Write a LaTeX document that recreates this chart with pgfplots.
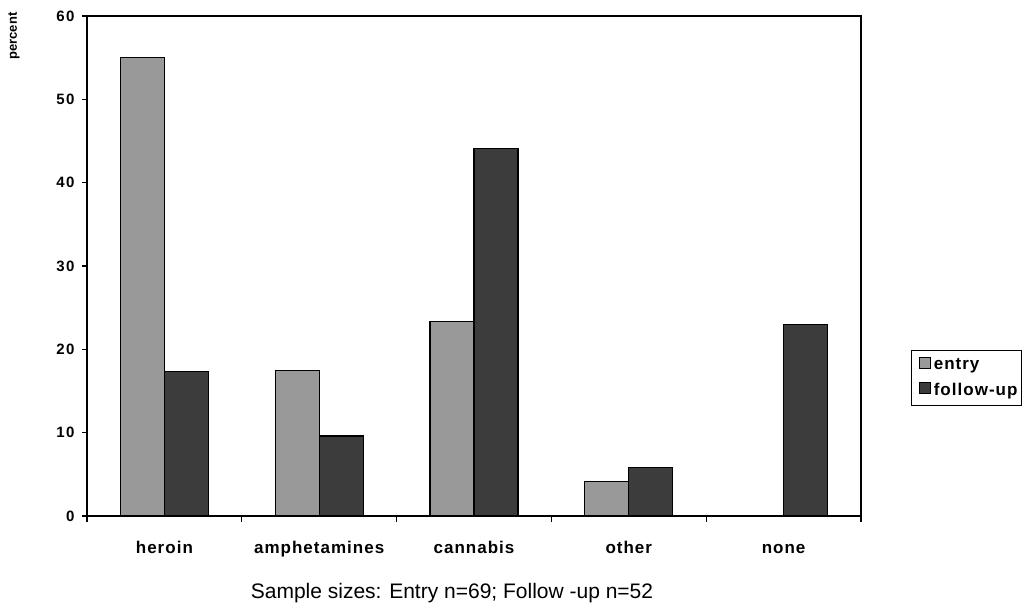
\documentclass[border=0pt]{standalone}
\usepackage{pgfplots}
\pgfplotsset{compat=1.18}
\usepackage{fontspec}
\setmainfont{Liberation Sans}
\definecolor{entrycol}{HTML}{999999}
\definecolor{followcol}{HTML}{3C3C3C}
\begin{document}
\begin{tikzpicture}[x=1pt,y=1pt]
\path[use as bounding box] (0,0) rectangle (1034,610);
\begin{axis}[
  at={(87pt,94pt)}, anchor=south west,
  scale only axis, width=774pt, height=500pt,
  xmin=-0.5, xmax=4.5, ymin=0, ymax=60,
  axis line style={line width=1.6pt},
  ytick={0,10,...,60},
  ytick pos=left, xtick pos=bottom,
  /pgf/number format/assume math mode=true,
  yticklabel style={font=\fontsize{15}{17}\selectfont\bfseries\addfontfeature{LetterSpace=10}, xshift=-4pt},
  ytick style={line width=1.2pt, black},
  tick align=outside, major tick length=5pt,
  xtick={0,1,2,3,4},
  xticklabels={heroin,amphetamines,cannabis,other,none},
  xticklabel style={font=\fontsize{17}{19}\selectfont\bfseries\addfontfeature{LetterSpace=6}, anchor=base, yshift=-33pt},
  xtick style={draw=none},
  extra x ticks={-0.5,0.5,1.5,2.5,3.5,4.5},
  extra x tick labels={},
  extra x tick style={xtick style={draw=black, line width=1.2pt}, major tick length=6pt},
  ybar, bar width=44pt,
  legend style={at={(1.0646,0.332)}, anchor=north west, draw=black, line width=1.2pt,
    font=\fontsize{17}{19}\selectfont\bfseries\addfontfeature{LetterSpace=6}, inner xsep=2pt, inner ysep=6pt, row sep=8pt,
    cells={anchor=west}},
  legend image code/.code={\path (0pt,0pt) (17pt,0pt); \draw[#1, line width=0.8pt] (5pt,-3pt) rectangle (16pt,8pt);},
]
\addplot[fill=entrycol, draw=black, line width=1.2pt, bar shift=-22pt] coordinates {(0,55) (1,17.5) (2,23.3) (3,4.1) (4,0)};
\addplot[fill=followcol, draw=black, line width=1.2pt, bar shift=22pt] coordinates {(0,17.3) (1,9.6) (2,44.1) (3,5.8) (4,23.0)};
\legend{entry,follow-up}
\end{axis}
\node[rotate=90, font=\fontsize{13}{15}\selectfont\bfseries] at (14,574) {percent};
\node[font=\fontsize{21}{23}\selectfont, anchor=base] at (452,11) {Sample sizes: Entry n=69; Follow -up n=52};
\end{tikzpicture}
\end{document}
